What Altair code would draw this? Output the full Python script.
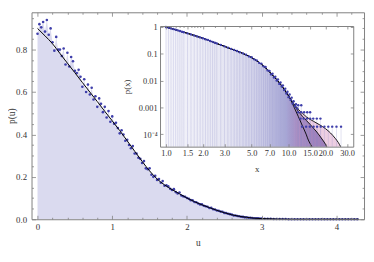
import altair as alt
import pandas as pd

# ---------------- data ----------------
main_u = [
    0.000, 0.025, 0.050, 0.075, 0.100, 0.125, 0.150, 0.175,
    0.200, 0.225, 0.250, 0.275, 0.300, 0.325, 0.350, 0.375,
    0.400, 0.425, 0.450, 0.475, 0.500, 0.525, 0.550, 0.575,
    0.600, 0.625, 0.650, 0.675, 0.700, 0.725, 0.750, 0.775,
    0.800, 0.825, 0.850, 0.875, 0.900, 0.925, 0.950, 0.975,
    1.000, 1.025, 1.050, 1.075, 1.100, 1.125, 1.150, 1.175,
    1.200, 1.225, 1.250, 1.275, 1.300, 1.325, 1.350, 1.375,
    1.400, 1.425, 1.450, 1.475, 1.500, 1.525, 1.550, 1.575,
    1.600, 1.625, 1.650, 1.675, 1.700, 1.725, 1.750, 1.775,
    1.800, 1.825, 1.850, 1.875, 1.900, 1.925, 1.950, 1.975,
    2.000, 2.025, 2.050, 2.075, 2.100, 2.125, 2.150, 2.175,
    2.200, 2.225, 2.250, 2.275, 2.300, 2.325, 2.350, 2.375,
    2.400, 2.425, 2.450, 2.475, 2.500, 2.525, 2.550, 2.575,
    2.600, 2.625, 2.650, 2.675, 2.700, 2.725, 2.750, 2.775,
    2.800, 2.825, 2.850, 2.875, 2.900, 2.925, 2.950, 2.975,
]
main_p = [
    0.875, 0.920, 0.905, 0.930, 0.885, 0.940, 0.870, 0.900,
    0.835, 0.795, 0.860, 0.800, 0.800, 0.770, 0.805, 0.730,
    0.785, 0.720, 0.765, 0.745, 0.700, 0.690, 0.705, 0.672,
    0.625, 0.660, 0.600, 0.635, 0.588, 0.620, 0.565, 0.580,
    0.530, 0.570, 0.545, 0.505, 0.530, 0.480, 0.510, 0.460,
    0.485, 0.450, 0.455, 0.430, 0.405, 0.420, 0.400, 0.370,
    0.375, 0.350, 0.335, 0.345, 0.310, 0.310, 0.290, 0.285,
    0.265, 0.275, 0.240, 0.236, 0.240, 0.210, 0.200, 0.205,
    0.185, 0.190, 0.172, 0.180, 0.158, 0.160, 0.155, 0.144,
    0.138, 0.142, 0.128, 0.122, 0.126, 0.112, 0.108, 0.106,
    0.100, 0.097, 0.090, 0.089, 0.081, 0.080, 0.074, 0.070,
    0.070, 0.064, 0.061, 0.059, 0.053, 0.054, 0.047, 0.046,
    0.041, 0.040, 0.036, 0.035, 0.030, 0.029, 0.026, 0.024,
    0.022, 0.018, 0.018, 0.015, 0.014, 0.012, 0.011, 0.009,
    0.009, 0.007, 0.007, 0.006, 0.005, 0.004, 0.004, 0.003,
]
tail_u = [3.00, 3.04, 3.08, 3.12, 3.16, 3.20, 3.24, 3.28, 3.32, 3.36, 3.40,
          3.44, 3.48, 3.52, 3.56, 3.60, 3.64, 3.68, 3.72, 3.76, 3.80, 3.84,
          3.88, 3.92, 3.96, 4.00, 4.04, 4.08, 4.12, 4.16, 4.20, 4.24, 4.28]
tail_p = [0.003, 0.002, 0.002, 0.002, 0.001, 0.001, 0.001, 0.001, 0.001, 0.0, 0.0,
          0.0, 0.0, 0.0, 0.0, 0.0, 0.0, 0.0, 0.0, 0.0, 0.0, 0.0,
          0.0, 0.0, 0.0, 0.0, 0.0, 0.0, 0.0, 0.0, 0.0, 0.0, 0.0]

curve_u = [0.0, 0.1, 0.2, 0.3, 0.4, 0.5, 0.6, 0.7, 0.8, 0.9, 1.0, 1.1, 1.2,
           1.3, 1.4, 1.5, 1.6, 1.7, 1.8, 1.9, 2.0, 2.1, 2.2, 2.3, 2.4, 2.5,
           2.6, 2.7, 2.8, 2.9, 3.0, 3.2, 3.4, 3.8, 4.3]
curve_p = [0.900, 0.865, 0.828, 0.782, 0.736, 0.691, 0.645, 0.600, 0.555,
           0.509, 0.464, 0.418, 0.370, 0.321, 0.273, 0.228, 0.190, 0.162,
           0.140, 0.120, 0.100, 0.083, 0.068, 0.055, 0.042, 0.031, 0.021,
           0.014, 0.009, 0.005, 0.003, 0.001, 0.0, 0.0, 0.0]

# inset (log-log) data
inset_x = [1.0, 1.05, 1.1, 1.15, 1.2, 1.25, 1.3, 1.35, 1.4, 1.5, 1.6, 1.7,
           1.8, 1.9, 2.0, 2.1, 2.2, 2.3, 2.4, 2.5, 2.6, 2.8, 3.0, 3.2, 3.4,
           3.6, 3.8, 4.0, 4.25, 4.5, 4.75, 5.0, 5.25, 5.5, 5.75, 6.0, 6.25,
           6.5, 6.75, 7.0, 7.2, 7.4, 7.6, 7.8, 8.0, 8.2, 8.4, 8.6, 8.8, 9.0,
           9.2, 9.4, 9.6, 9.8, 10.0, 10.2, 10.4, 10.6, 10.8, 11.0, 11.3, 11.5,
           11.8, 12.0, 12.7,
           12.0, 12.7, 13.4, 14.2, 15.0,
           12.5, 13.3, 14.1, 15.0, 15.9, 17.0, 18.2,
           12.9, 13.9, 14.9, 16.0, 17.1, 18.3, 19.6, 21.1, 22.7, 24.6, 26.8]
inset_p = [1.0, 0.94, 0.89, 0.84, 0.79, 0.75, 0.71, 0.67, 0.64, 0.58, 0.53, 0.48,
           0.44, 0.41, 0.38, 0.35, 0.33, 0.30, 0.28, 0.26, 0.245, 0.215, 0.19,
           0.17, 0.153, 0.14, 0.127, 0.115, 0.104, 0.093, 0.080, 0.074, 0.062,
           0.057, 0.046, 0.043, 0.034, 0.032, 0.024, 0.023, 0.017, 0.018, 0.013,
           0.014, 0.0100, 0.011, 0.0075, 0.0085, 0.0060, 0.0066, 0.0044, 0.0050,
           0.0033, 0.0038, 0.0024, 0.0030, 0.0019, 0.0023, 0.0014, 0.0017,
           0.0011, 0.0013, 0.0009, 0.0012, 0.0012,
           0.00066, 0.00066, 0.00066, 0.00066, 0.00066,
           0.00038, 0.00038, 0.00038, 0.00038, 0.00038, 0.00038, 0.00038,
           0.00019, 0.00019, 0.00019, 0.00019, 0.00019, 0.00019, 0.00019,
           0.00019, 0.00019, 0.00019, 0.00019]

common_x = [1.0, 1.2, 1.5, 2.0, 2.5, 3.0, 3.5, 4.0, 4.5, 5.0, 5.5, 6.0, 6.5,
            7.0, 7.5, 8.0, 8.5, 9.0, 9.5, 10.0]
common_p = [1.0, 0.79, 0.58, 0.38, 0.26, 0.19, 0.145, 0.115, 0.092, 0.072,
            0.055, 0.041, 0.030, 0.021, 0.015, 0.011, 0.0078, 0.0055, 0.0038,
            0.0027]
low_x = [11.0, 12.0, 13.0, 13.9, 14.5, 15.0, 15.5]
low_p = [0.0011, 0.00046, 0.00020, 0.00010, 0.000060, 0.000044, 0.000034]
mid_x = [11.0, 12.0, 13.0, 14.0, 15.0, 16.0, 17.0, 18.0, 19.0, 20.0, 20.5]
mid_p = [0.0013, 0.00072, 0.00046, 0.00032, 0.00023, 0.000165, 0.00012,
         0.000085, 0.000060, 0.000042, 0.000034]
high_x = [11.0, 12.0, 13.0, 14.0, 16.0, 18.0, 20.0, 22.0, 24.0, 25.5, 26.6]
high_p = [0.0014, 0.00085, 0.00060, 0.00044, 0.00030, 0.00022, 0.00016,
          0.00011, 0.000070, 0.000048, 0.000034]

x_major = [0, 1, 2, 3, 4]
x_minor = [0.2, 0.4, 0.6, 0.8, 1.2, 1.4, 1.6, 1.8, 2.2, 2.4, 2.6, 2.8,
           3.2, 3.4, 3.6, 3.8, 4.2]
y_major = [0.0, 0.2, 0.4, 0.6, 0.8]
y_minor = [0.05, 0.1, 0.15, 0.25, 0.3, 0.35, 0.45, 0.5, 0.55, 0.65, 0.7,
           0.75, 0.85, 0.9, 0.95]
ix_ticks = [1.0, 1.5, 2.0, 3.0, 5.0, 7.0, 10.0, 15.0, 20.0, 30.0]
ix_minor = [1.1, 1.2, 1.3, 1.4, 1.6, 1.7, 1.8, 1.9, 2.5, 4.0, 6.0, 8.0, 9.0, 25.0]
iy_ticks = [1.0, 0.1, 0.01, 0.001, 0.0001]

# ---------------- layout / style ----------------
W, H = 339, 211
FONT = "Liberation Serif"
FRAME = "#808080"
TXT = "#333333"
PT = "#3e3eaa"
YBOT = 3.4e-5

# inset rectangle inside the plot area (pixels)
IX0, IX1, IY0, IY1 = 131, 328, 14, 137


def axis(**kw):
    base = dict(grid=False, zindex=1, labelFlush=False)
    base.update(kw)
    return alt.Axis(**base)


main_pts = pd.DataFrame({"u": main_u + tail_u, "p": main_p + tail_p})
main_crv = pd.DataFrame({"u": curve_u, "p": curve_p})

xs = alt.Scale(domain=[-0.08, 4.37], nice=False, zero=False)
ys = alt.Scale(domain=[0.0, 0.976], nice=False, zero=False)

fill = alt.Chart(main_pts).mark_area(color="#dadaef").encode(
    x=alt.X("u:Q", scale=xs, axis=axis(orient="bottom", values=x_major, format="d",
                                        ticks=False, labelPadding=3, title="u", titleY=19)),
    y=alt.Y("p:Q", scale=ys, axis=axis(orient="left", values=y_major, format=".1f",
                                        ticks=False, labelPadding=5, title="p(u)",
                                        titleX=-15, titleY=H / 2)),
)
dots = alt.Chart(main_pts).mark_circle(size=7, color=PT, opacity=1).encode(
    x=alt.X("u:Q", scale=xs, axis=axis(orient="top", offset=-H, values=x_major, tickSize=4,
                                        labels=False, domain=False, title=None)),
    y=alt.Y("p:Q", scale=ys, axis=axis(orient="right", offset=-W, values=y_major, tickSize=4,
                                        labels=False, domain=False, title=None)),
)
line = alt.Chart(main_crv).mark_line(color="black", strokeWidth=1, interpolate="monotone").encode(
    x=alt.X("u:Q", scale=xs, axis=axis(orient="bottom", offset=-H, values=x_major, tickSize=4,
                                        labels=False, domain=True, title=None)),
    y=alt.Y("p:Q", scale=ys, axis=axis(orient="left", offset=-W, values=y_major, tickSize=4,
                                        labels=False, domain=True, title=None)),
)
minor1 = alt.Chart(main_crv).mark_point(opacity=0).encode(
    x=alt.X("u:Q", scale=xs, axis=axis(orient="top", offset=-H, values=x_minor, tickSize=2,
                                        labels=False, domain=False, title=None)),
    y=alt.Y("p:Q", scale=ys, axis=axis(orient="right", offset=-W, values=y_minor, tickSize=2,
                                        labels=False, domain=False, title=None)),
)
minor2 = alt.Chart(main_crv).mark_point(opacity=0).encode(
    x=alt.X("u:Q", scale=xs, axis=axis(orient="bottom", offset=-H, values=x_minor, tickSize=2,
                                        labels=False, domain=False, title=None)),
    y=alt.Y("p:Q", scale=ys, axis=axis(orient="left", offset=-W, values=y_minor, tickSize=2,
                                        labels=False, domain=False, title=None)),
)
main_group = alt.layer(fill, dots, line, minor1, minor2).resolve_axis(x="independent", y="independent")

# ---------------- inset ----------------
ixs = alt.Scale(type="log", domain=[0.895, 33.7], range=[IX0, IX1], nice=False)
iys = alt.Scale(type="log", domain=[YBOT, 1.09], range=[IY1, IY0], nice=False)

curves = pd.DataFrame({
    "x": common_x + low_x + common_x + mid_x + common_x + high_x,
    "p": common_p + low_p + common_p + mid_p + common_p + high_p,
    "c": (["low"] * (len(common_x) + len(low_x)) + ["mid"] * (len(common_x) + len(mid_x))
          + ["high"] * (len(common_x) + len(high_x))),
})
mid_df = pd.DataFrame({"x": common_x + mid_x, "p": common_p + mid_p})
high_df = pd.DataFrame({"x": common_x[18:] + high_x, "p": common_p[18:] + high_p})
ipts = pd.DataFrame({"x": inset_x, "p": inset_p})

bg = alt.Chart(pd.DataFrame({"k": [0]})).mark_rect(color="white").encode(
    x=alt.value(IX0), x2=alt.value(IX1), y=alt.value(IY0), y2=alt.value(IY1))

blue_grad = alt.LinearGradient(
    gradient="linear", x1=0, y1=0, x2=1, y2=0,
    stops=[alt.GradientStop(color="#f5f5fb", offset=0.0),
           alt.GradientStop(color="#e6e6f3", offset=0.37),
           alt.GradientStop(color="#d2d2ea", offset=0.55),
           alt.GradientStop(color="#acacd8", offset=0.76),
           alt.GradientStop(color="#8c8cc6", offset=0.9),
           alt.GradientStop(color="#8282c0", offset=1.0)])
pink_grad = alt.LinearGradient(
    gradient="linear", x1=0, y1=0, x2=1, y2=0,
    stops=[alt.GradientStop(color="rgba(205,120,175,0)", offset=0.0),
           alt.GradientStop(color="rgba(205,120,175,0.36)", offset=0.2),
           alt.GradientStop(color="rgba(205,120,175,0.36)", offset=1.0)])

iarea = alt.Chart(mid_df).mark_area(color=blue_grad, clip=True, interpolate="monotone").encode(
    x=alt.X("x:Q", scale=ixs, axis=axis(orient="bottom", offset=-(H - IY1), values=ix_ticks,
                                         format=".1f", ticks=False, labelPadding=2,
                                         labelFontSize=8.5, labelOverlap=False, labelBound=False,
                                         title="x", titleFontSize=9, titleY=18)),
    y=alt.Y("p:Q", scale=iys, axis=axis(orient="left", offset=-IX0, values=iy_ticks,
                                         labelExpr="datum.value > 0.5 ? '1' : datum.value > 0.05 ? '0.1' : datum.value > 0.005 ? '0.01' : datum.value > 0.0005 ? '0.001' : '10\u207b\u2074'",
                                         ticks=False, labelPadding=3, labelFontSize=8.5,
                                         labelOverlap=False, title="p(x)", titleFontSize=9,
                                         titleX=-29, titleY=(IY0 + IY1) / 2)),
    y2=alt.datum(YBOT),
)
pink = alt.Chart(high_df).mark_area(color=pink_grad, clip=True, interpolate="monotone").encode(
    x=alt.X("x:Q", scale=ixs, axis=None),
    y=alt.Y("p:Q", scale=iys, axis=None),
    y2=alt.datum(YBOT),
)
irules = alt.Chart(ipts).mark_rule(color="#8a8ac6", opacity=0.3, strokeWidth=0.8, clip=True).encode(
    x=alt.X("x:Q", scale=ixs, axis=axis(orient="bottom", offset=-(H - IY0), values=ix_minor,
                                         tickSize=1.5, labels=False, domain=False, title=None)),
    y=alt.Y("p:Q", scale=iys, axis=None),
    y2=alt.datum(YBOT),
)
ilines = alt.Chart(curves).mark_line(color="black", strokeWidth=0.9, clip=True,
                                     interpolate="monotone").encode(
    x=alt.X("x:Q", scale=ixs, axis=axis(orient="top", offset=-IY1, values=ix_ticks, tickSize=3,
                                         labels=False, domain=False, title=None)),
    y=alt.Y("p:Q", scale=iys, axis=axis(orient="right", offset=IX0 - W, values=iy_ticks,
                                         tickSize=3, labels=False, domain=False, title=None)),
    detail="c:N",
)
idots = alt.Chart(ipts).mark_circle(size=6, color=PT, opacity=1, clip=True).encode(
    x=alt.X("x:Q", scale=ixs, axis=axis(orient="bottom", offset=-(H - IY0), values=ix_ticks,
                                         tickSize=3, labels=False, domain=True, title=None)),
    y=alt.Y("p:Q", scale=iys, axis=axis(orient="left", offset=-IX1, values=iy_ticks,
                                         tickSize=3, labels=False, domain=True, title=None)),
)
inset_group = alt.layer(bg, iarea, pink, irules, ilines, idots).resolve_axis(
    x="independent", y="independent")

chart = alt.layer(main_group, inset_group).resolve_scale(
    x="independent", y="independent"
).properties(
    width=W, height=H,
    padding={"left": 24, "top": 2, "right": 2, "bottom": 30},
    autosize=alt.AutoSizeParams(type="none"),
).configure_axis(
    labelFont=FONT, titleFont=FONT, labelFontSize=9, titleFontSize=9.5,
    titleFontWeight="normal", labelColor=TXT, titleColor=TXT,
    domainColor=FRAME, tickColor=FRAME, domainWidth=1, tickWidth=0.8,
).configure_view(stroke=None)

chart.save("out.html", embed_options={"renderer": "svg", "actions": False})
